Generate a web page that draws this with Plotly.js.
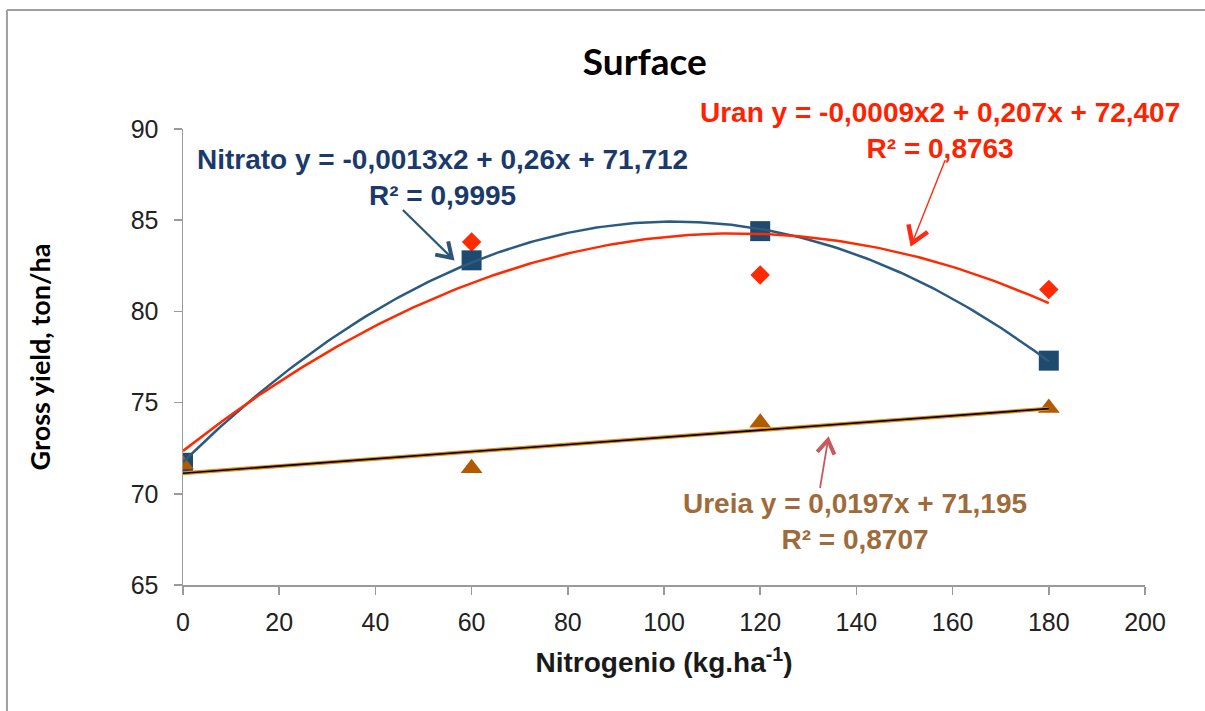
<!DOCTYPE html>
<html>
<head>
<meta charset="utf-8">
<script src="https://cdn.plot.ly/plotly-3.0.1.min.js"></script>
<style>
  html, body { margin: 0; padding: 0; background: #ffffff; }
  #chart { width: 1205px; height: 711px; }
</style>
</head>
<body>
<div id="chart"></div>
<script>
// ---- data ----
const nitrogen = [0, 60, 120, 180];
const nitrato = [71.7, 82.8, 84.4, 77.3];
const uran = [71.6, 83.8, 82.0, 81.2];
const ureia = [71.6, 71.4, 73.9, 74.7];

const xTicks = [0, 20, 40, 60, 80, 100, 120, 140, 160, 180, 200];
const yTicks = [65, 70, 75, 80, 85, 90];

const chartTitle = 'Surface';
const xTitle = 'Nitrogenio (kg.ha<sup>-1</sup>)';
const yTitle = 'Gross yield, ton/ha';
const nitratoLabel = 'Nitrato y = -0,0013x2 + 0,26x + 71,712<br>R² = 0,9995';
const uranLabel = 'Uran y = -0,0009x2 + 0,207x + 72,407<br>R² = 0,8763';
const ureiaLabel = 'Ureia y = 0,0197x + 71,195<br>R² = 0,8707';

// ---- least-squares polynomial trendline (as the spreadsheet does) ----
function polyfit(xs, ys, deg) {
  const n = deg + 1;
  const A = [];
  for (let i = 0; i < n; i++) {
    A.push(new Array(n + 1).fill(0));
  }
  for (let k = 0; k < xs.length; k++) {
    for (let i = 0; i < n; i++) {
      for (let j = 0; j < n; j++) A[i][j] += Math.pow(xs[k], i + j);
      A[i][n] += ys[k] * Math.pow(xs[k], i);
    }
  }
  for (let c = 0; c < n; c++) {
    let p = c;
    for (let r = c + 1; r < n; r++) if (Math.abs(A[r][c]) > Math.abs(A[p][c])) p = r;
    [A[c], A[p]] = [A[p], A[c]];
    for (let r = 0; r < n; r++) {
      if (r === c) continue;
      const f = A[r][c] / A[c][c];
      for (let j = c; j <= n; j++) A[r][j] -= f * A[c][j];
    }
  }
  return A.map((row, i) => row[n] / row[i]);
}
function trend(xs, ys, deg) {
  const coef = polyfit(xs, ys, deg);
  const x0 = Math.min(...xs), x1 = Math.max(...xs);
  const tx = [], ty = [];
  for (let x = x0; x <= x1; x += 1) {
    tx.push(x);
    ty.push(coef.reduce((s, c, i) => s + c * Math.pow(x, i), 0));
  }
  return { x: tx, y: ty };
}

// ---- callout arrow drawn as pixel-sized shapes anchored at the tip ----
function arrowShapes(tipX, tipY, dx, dy, color, shaftW, headLen, headW) {
  const L = Math.hypot(dx, dy);
  const ux = dx / L, uy = dy / L;
  const ang = 33 * Math.PI / 180;
  const r = (a) => [headLen * (ux * Math.cos(a) - uy * Math.sin(a)),
                    headLen * (ux * Math.sin(a) + uy * Math.cos(a))];
  const a1 = r(ang), a2 = r(-ang);
  const base = { type: 'path', xref: 'x', yref: 'y', xsizemode: 'pixel', ysizemode: 'pixel',
                 xanchor: tipX, yanchor: tipY, fillcolor: 'rgba(0,0,0,0)', layer: 'above' };
  return [
    Object.assign({}, base, { path: `M ${dx},${-dy} L ${ux * 1.5},${-uy * 1.5}`,
                              line: { color: color, width: shaftW } }),
    Object.assign({}, base, { path: `M ${a1[0]},${-a1[1]} L 0,0 L ${a2[0]},${-a2[1]}`,
                              line: { color: color, width: headW } })
  ];
}

const cBlueM = '#1f4a70', cBlueL = '#2b5a82', cBlueT = '#1b3a6c';
const cRed = '#ff2a00', cRedT = '#ff2200';
const cBrownM = '#b35a00', cBrownT = '#9e6b3b';

const tN = trend(nitrogen, nitrato, 2);
const tU = trend(nitrogen, uran, 2);
const tR = trend(nitrogen, ureia, 1);

const traces = [
  { x: nitrogen, y: uran, type: 'scatter', mode: 'markers', name: 'Uran',
    marker: { symbol: 'diamond', size: 15, color: cRed } },
  { x: nitrogen, y: nitrato, type: 'scatter', mode: 'markers', name: 'Nitrato',
    marker: { symbol: 'square', size: 20, color: cBlueM } },
  { x: nitrogen, y: ureia, type: 'scatter', mode: 'markers', name: 'Ureia',
    marker: { symbol: 'triangle-up', size: 19, color: cBrownM } },
  { x: tN.x, y: tN.y, type: 'scatter', mode: 'lines', name: 'Nitrato trend',
    line: { color: cBlueL, width: 2.5 } },
  { x: tU.x, y: tU.y, type: 'scatter', mode: 'lines', name: 'Uran trend',
    line: { color: cRed, width: 2.5 } },
  { x: tR.x, y: tR.y, type: 'scatter', mode: 'lines', name: 'Ureia trend',
    line: { color: '#e08a20', width: 4 } },
  { x: tR.x, y: tR.y, type: 'scatter', mode: 'lines', name: 'Ureia trend',
    line: { color: '#000000', width: 1.6 } }
];

const tickFont = { family: 'Liberation Sans, Arial, sans-serif', size: 25, color: '#222222' };
const annFont = (col) => ({ family: 'Liberation Sans, Arial, sans-serif', size: 28, color: col, weight: 700 });

const shapes = [
  { type: 'line', xref: 'paper', yref: 'paper', x0: -0.183, x1: 1.07, y0: 1.261, y1: 1.261,
    line: { color: '#a0a0a0', width: 2 } },
  { type: 'line', xref: 'paper', yref: 'paper', x0: -0.183, x1: -0.183, y0: 1.261, y1: -0.3,
    line: { color: '#a0a0a0', width: 2 } }
].concat(
  arrowShapes(55.9, 82.93, -49, -48, '#2c5576', 2.2, 17, 4),
  arrowShapes(151.6, 83.75, 33, -83, '#ff2a10', 1.4, 19, 4.5),
  arrowShapes(134.1, 72.95, -8, 48, '#c85a5e', 1.8, 16, 4)
);

const layout = {
  width: 1205, height: 711,
  margin: { l: 183, r: 60, t: 129, b: 126 },
  paper_bgcolor: '#ffffff', plot_bgcolor: '#ffffff',
  showlegend: false,
  title: { text: chartTitle, x: 0.48, xref: 'paper', xanchor: 'center',
           y: 0.913, yref: 'container', yanchor: 'middle',
           font: { family: 'Lato, sans-serif', size: 37, color: '#000000', weight: 700 } },
  xaxis: {
    range: [0, 200], tickvals: xTicks, ticktext: xTicks.map(String),
    showline: true, linecolor: '#9a9a9a', linewidth: 1.5,
    ticks: 'outside', ticklen: 8, tickcolor: '#9a9a9a', tickwidth: 1.5,
    showgrid: false, zeroline: false, tickfont: tickFont, ticklabelstandoff: 6,
    title: { text: xTitle, standoff: 18,
             font: { family: 'Liberation Sans, Arial, sans-serif', size: 28, color: '#1a1a1a', weight: 700 } }
  },
  yaxis: {
    range: [65, 90], tickvals: yTicks, ticktext: yTicks.map(String),
    showline: true, linecolor: '#9a9a9a', linewidth: 1.5,
    ticks: 'outside', ticklen: 8, tickcolor: '#9a9a9a', tickwidth: 1.5,
    showgrid: false, zeroline: false, tickfont: tickFont, ticklabelstandoff: 10,
    title: { text: yTitle, standoff: 72,
             font: { family: 'Lato, sans-serif', size: 27, color: '#000000', weight: 700 } }
  },
  shapes: shapes,
  annotations: [
    { text: nitratoLabel, xref: 'x', yref: 'y', x: 54.0, y: 87.34, showarrow: false,
      xanchor: 'center', yanchor: 'middle', align: 'center', font: annFont(cBlueT) },
    { text: uranLabel, xref: 'x', yref: 'y', x: 157.4, y: 89.9, showarrow: false,
      xanchor: 'center', yanchor: 'middle', align: 'center', font: annFont(cRedT) },
    { text: ureiaLabel, xref: 'x', yref: 'y', x: 139.7, y: 68.48, showarrow: false,
      xanchor: 'center', yanchor: 'middle', align: 'center', font: annFont(cBrownT) }
  ]
};

Plotly.newPlot('chart', traces, layout, { displayModeBar: false, staticPlot: true });
</script>
</body>
</html>
